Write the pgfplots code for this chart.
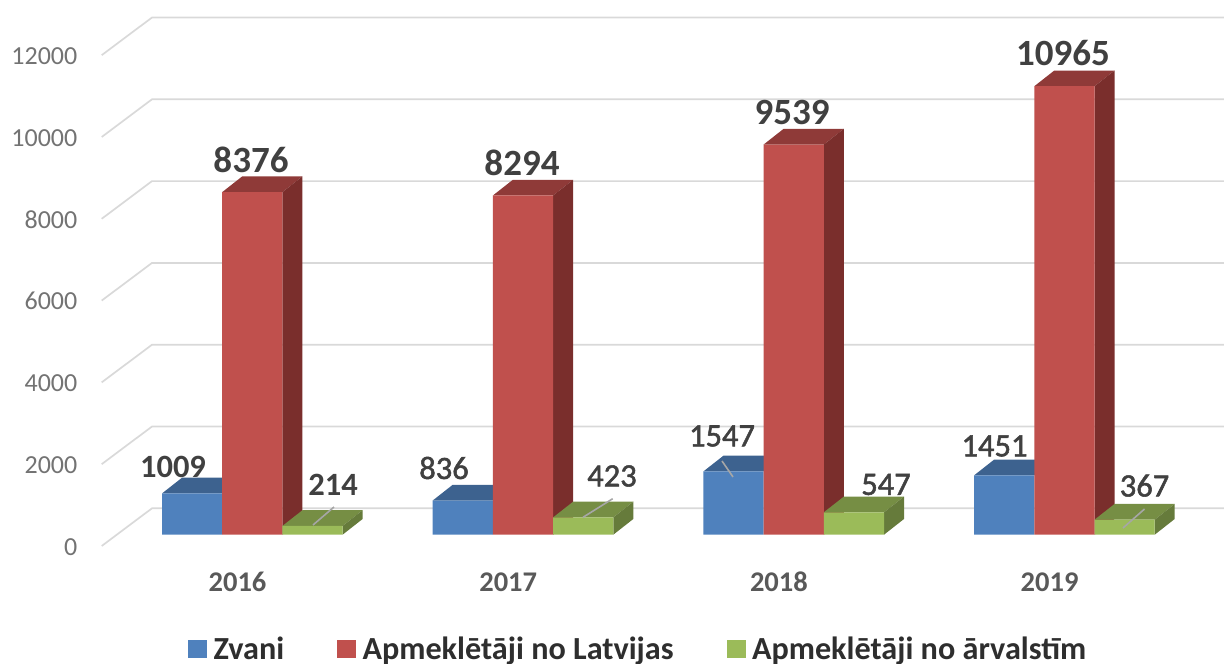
\documentclass[border=0pt]{standalone}
\usepackage{fontspec}
\setmainfont{Carlito}
\usepackage{pgfplots}
\pgfplotsset{compat=1.18}
\definecolor{gridc}{HTML}{D9D9D9}
\definecolor{bluef}{HTML}{4F81BD}
\definecolor{bluet}{HTML}{3D628F}
\definecolor{redf}{HTML}{C0504D}
\definecolor{redt}{HTML}{8F3A38}
\definecolor{reds}{HTML}{7A2E2C}
\definecolor{greenf}{HTML}{9BBB59}
\definecolor{greent}{HTML}{768E44}
\definecolor{greens}{HTML}{667B3B}
\definecolor{lab}{HTML}{404040}
\newcommand{\biglab}[2]{\node[font=\fontsize{37}{37}\selectfont\bfseries,text=lab] at (axis cs:#1) {#2};}
\newcommand{\smalllab}[2]{\node[font=\fontsize{32.5}{32.5}\selectfont\bfseries,text=lab] at (axis cs:#1) {#2};}
\newcommand{\medlab}[2]{\node[font=\fontsize{32.5}{32.5}\selectfont\addfontfeature{FakeBold=1.6},text=lab] at (axis cs:#1) {#2};}
\begin{document}
\begin{tikzpicture}
\begin{axis}[
  scale only axis, width=1224pt, height=662pt,
  xmin=0, xmax=1224, ymin=-3112.5, ymax=13073.3,
  axis line style={draw=none}, major tick length=0pt,
  tick style={draw=none},
  scaled y ticks=false, scaled x ticks=false,
  xtick={237.5,508.2,778.9,1049.6},
  xticklabels={2016,2017,2018,2019},
  x tick label style={font=\fontsize{28.5}{28.5}\selectfont\bfseries, text=black!65, anchor=center, yshift=80pt},
  ytick={0,2000,4000,6000,8000,10000,12000},
  yticklabels={0,2000,4000,6000,8000,10000,12000},
  y tick label style={font=\fontsize{26}{26}\selectfont, text=black!55, anchor=east, inner sep=0pt, xshift=77.5pt, yshift=-12pt},
  legend columns=3,
  legend cell align=left,
  legend style={at={(axis description cs:0.1536,0.0196)}, anchor=west, draw=none, fill=none, inner sep=0pt,
    font=\fontsize{32.2}{32.2}\selectfont\bfseries, text=black!82,
    /tikz/every odd column/.append style={column sep=5pt},
    /tikz/every even column/.append style={column sep=51pt}},
]
% gridlines
\addplot[gridc,line width=1.7pt,forget plot] coordinates {(101.7,-276) (152,645) (1224,645)};
\addplot[gridc,line width=1.7pt,forget plot] coordinates {(101.7,1724) (152,2645) (1224,2645)};
\addplot[gridc,line width=1.7pt,forget plot] coordinates {(101.7,3724) (152,4645) (1224,4645)};
\addplot[gridc,line width=1.7pt,forget plot] coordinates {(101.7,5724) (152,6645) (1224,6645)};
\addplot[gridc,line width=1.7pt,forget plot] coordinates {(101.7,7724) (152,8645) (1224,8645)};
\addplot[gridc,line width=1.7pt,forget plot] coordinates {(101.7,9724) (152,10645) (1224,10645)};
\addplot[gridc,line width=1.7pt,forget plot] coordinates {(101.7,11724) (152,12645) (1224,12645)};
% blue tops
\addplot[fill=bluet,draw=none,forget plot] coordinates {(162,1009) (222.2,1009) (242.2,1393) (182,1393)} --cycle;
\addplot[fill=bluet,draw=none,forget plot] coordinates {(432.7,836) (492.9,836) (512.9,1220) (452.7,1220)} --cycle;
\addplot[fill=bluet,draw=none,forget plot] coordinates {(703.4,1547) (763.6,1547) (783.6,1931) (723.4,1931)} --cycle;
\addplot[fill=bluet,draw=none,forget plot] coordinates {(974.1,1451) (1034.3,1451) (1054.3,1835) (994.1,1835)} --cycle;
% blue fronts
\addplot[ybar,bar width=60.2,bar shift=0pt,fill=bluef,draw=none,forget plot] coordinates {(192.1,1009) (462.8,836) (733.5,1547) (1004.2,1451)};
% red tops
\addplot[fill=redt,draw=none,forget plot] coordinates {(222.2,8376) (282.4,8376) (302.4,8760) (242.2,8760)} --cycle;
\addplot[fill=redt,draw=none,forget plot] coordinates {(492.9,8294) (553.1,8294) (573.1,8678) (512.9,8678)} --cycle;
\addplot[fill=redt,draw=none,forget plot] coordinates {(763.6,9539) (823.8,9539) (843.8,9923) (783.6,9923)} --cycle;
\addplot[fill=redt,draw=none,forget plot] coordinates {(1034.3,10965) (1094.5,10965) (1114.5,11349) (1054.3,11349)} --cycle;
% red sides
\addplot[fill=reds,draw=none,forget plot] coordinates {(282.4,0) (302.4,384) (302.4,8760) (282.4,8376)} --cycle;
\addplot[fill=reds,draw=none,forget plot] coordinates {(553.1,0) (573.1,384) (573.1,8678) (553.1,8294)} --cycle;
\addplot[fill=reds,draw=none,forget plot] coordinates {(823.8,0) (843.8,384) (843.8,9923) (823.8,9539)} --cycle;
\addplot[fill=reds,draw=none,forget plot] coordinates {(1094.5,0) (1114.5,384) (1114.5,11349) (1094.5,10965)} --cycle;
% red fronts
\addplot[ybar,bar width=60.2,bar shift=0pt,fill=redf,draw=none,forget plot] coordinates {(252.3,8376) (523,8294) (793.7,9539) (1064.4,10965)};
% green tops
\addplot[fill=greent,draw=none,forget plot] coordinates {(282.4,214) (342.6,214) (362.6,598) (302.4,598)} --cycle;
\addplot[fill=greent,draw=none,forget plot] coordinates {(553.1,423) (613.3,423) (633.3,807) (573.1,807)} --cycle;
\addplot[fill=greent,draw=none,forget plot] coordinates {(823.8,547) (884,547) (904,931) (843.8,931)} --cycle;
\addplot[fill=greent,draw=none,forget plot] coordinates {(1094.5,367) (1154.7,367) (1174.7,751) (1114.5,751)} --cycle;
% green sides
\addplot[fill=greens,draw=none,forget plot] coordinates {(342.6,0) (362.6,384) (362.6,598) (342.6,214)} --cycle;
\addplot[fill=greens,draw=none,forget plot] coordinates {(613.3,0) (633.3,384) (633.3,807) (613.3,423)} --cycle;
\addplot[fill=greens,draw=none,forget plot] coordinates {(884,0) (904,384) (904,931) (884,547)} --cycle;
\addplot[fill=greens,draw=none,forget plot] coordinates {(1154.7,0) (1174.7,384) (1174.7,751) (1154.7,367)} --cycle;
% green fronts
\addplot[ybar,bar width=60.2,bar shift=0pt,fill=greenf,draw=none,forget plot] coordinates {(312.5,214) (583.2,423) (853.9,547) (1124.6,367)};
% leaders
\addplot[black!35,line width=1.6pt,forget plot] coordinates {(334,677) (313,237)};
\addplot[black!35,line width=1.6pt,forget plot] coordinates {(612.7,880) (583,425)};
\addplot[black!35,line width=1.6pt,forget plot] coordinates {(722,1802) (733,1411)};
\addplot[black!35,line width=1.6pt,forget plot] coordinates {(1144.5,628) (1123,164)};
% labels
\biglab{251,9161}{8376}
\biglab{522,9088}{8294}
\biglab{792,10311}{9539}
\biglab{1063,11778}{10965}
\smalllab{173,1655}{1009}
\medlab{444,1631}{836}
\medlab{722,2413}{1547}
\medlab{994.5,2169}{1451}
\smalllab{333,1215}{214}
\medlab{612,1435}{423}
\medlab{886,1227}{547}
\medlab{1144.5,1200}{367}
% legend
\addlegendimage{legend image code/.code={\fill[bluef] (0pt,-8.5pt) rectangle (18pt,8.5pt);}}
\addlegendentry{Zvani}
\addlegendimage{legend image code/.code={\fill[redf] (0pt,-8.5pt) rectangle (18pt,8.5pt);}}
\addlegendentry{Apmeklētāji no Latvijas}
\addlegendimage{legend image code/.code={\fill[greenf] (0pt,-8.5pt) rectangle (18pt,8.5pt);}}
\addlegendentry{Apmeklētāji no ārvalstīm}
\end{axis}
\end{tikzpicture}
\end{document}
